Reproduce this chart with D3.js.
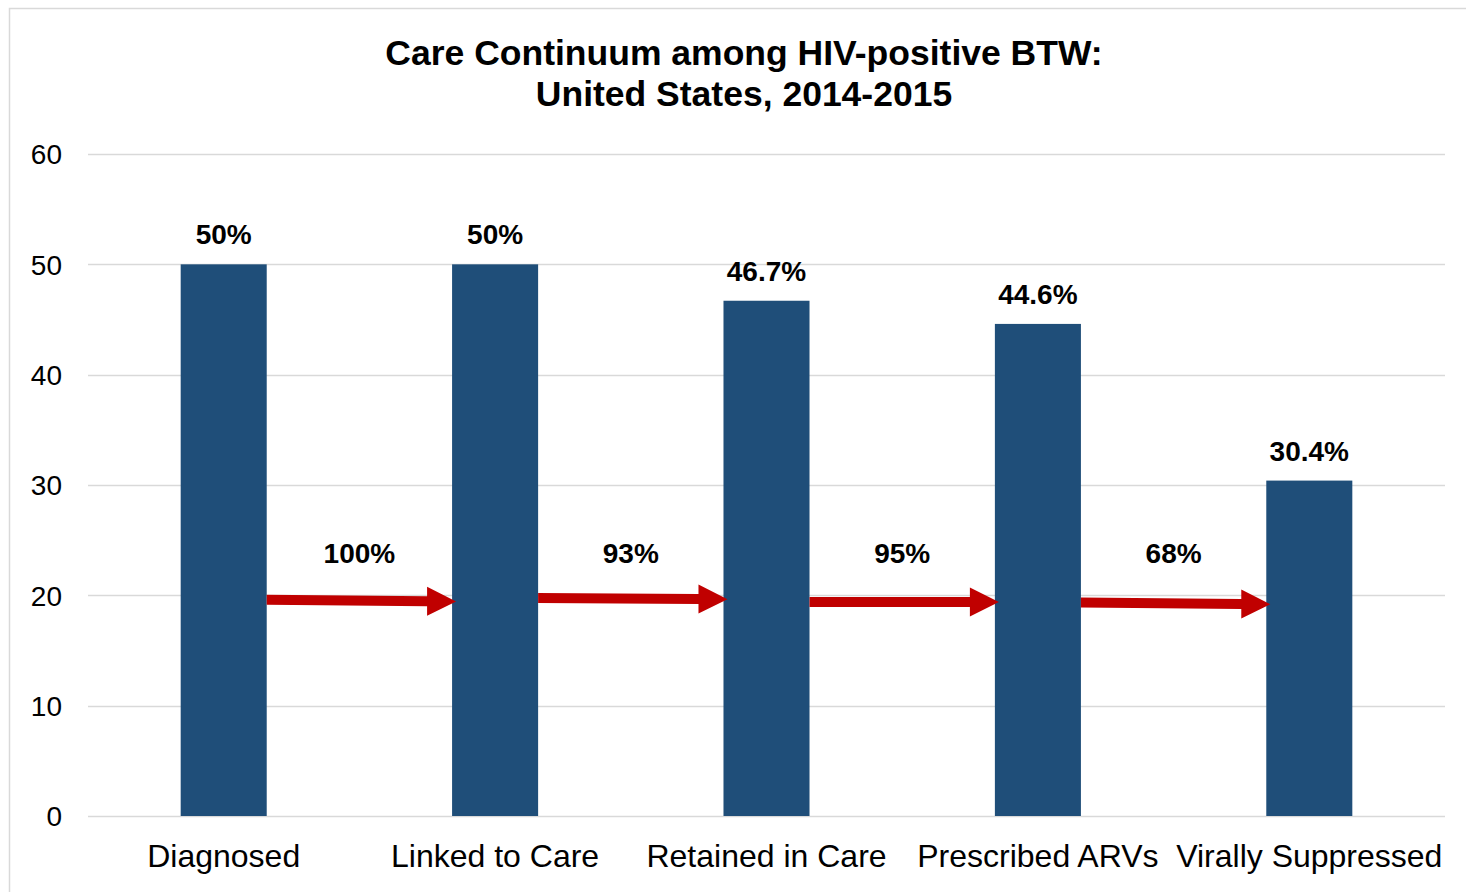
<!DOCTYPE html>
<html>
<head>
<meta charset="utf-8">
<script src="https://cdn.jsdelivr.net/npm/d3@7"></script>
<style>
  html, body { margin: 0; padding: 0; background: #fff; }
  svg { display: block; }
</style>
</head>
<body>
<script>
// DATA
let categories = ['Diagnosed', 'Linked to Care', 'Retained in Care', 'Prescribed ARVs', 'Virally Suppressed'];
let values = [50, 50, 46.7, 44.6, 30.4];
let valueLabels = ['50%', '50%', '46.7%', '44.6%', '30.4%'];
let stepLabels = ['100%', '93%', '95%', '68%'];
// arrow heights (axis units) at start and at tip
let arrowFrom = [19.6, 19.75, 19.4, 19.35];
let arrowTo = [19.45, 19.65, 19.4, 19.2];
let yTicks = [0, 10, 20, 30, 40, 50, 60];
let titleLines = ['Care Continuum among HIV-positive BTW:', 'United States, 2014-2015'];

let W = 1466, H = 892;
let font = "'Liberation Sans', Arial, sans-serif";

let svg = d3.select('body').append('svg')
  .attr('width', W)
  .attr('height', H);

// frame
svg.append('rect')
  .attr('x', 9.5)
  .attr('y', 8.5)
  .attr('width', W + 20)
  .attr('height', H + 20)
  .attr('fill', '#fff')
  .attr('stroke', '#d9d9d9')
  .attr('stroke-width', 1.5);

// title
svg.append('text')
  .attr('text-anchor', 'middle')
  .attr('font-family', font)
  .attr('font-weight', 'bold')
  .attr('font-size', 35.5)
  .attr('fill', '#000')
  .selectAll('tspan')
  .data(titleLines)
  .enter().append('tspan')
  .attr('x', 744)
  .attr('y', (d, i) => 65 + i * 41)
  .text(d => d);

// scales
let x = d3.scaleBand()
  .domain(categories)
  .range([88, 1445])
  .padding(0);
let barW = x.bandwidth() * 0.317;
let cx = c => x(c) + x.bandwidth() / 2;

let y = d3.scaleLinear()
  .domain([0, 60])
  .range([816, 154]);

// gridlines
svg.append('g')
  .attr('class', 'grid')
  .selectAll('line')
  .data(yTicks)
  .enter().append('line')
  .attr('x1', 88)
  .attr('x2', 1445)
  .attr('y1', d => Math.round(y(d)) + 0.5)
  .attr('y2', d => Math.round(y(d)) + 0.5)
  .attr('stroke', '#d9d9d9')
  .attr('stroke-width', 1.5);

// y axis labels
svg.append('g')
  .attr('class', 'y-axis')
  .attr('transform', 'translate(62,0)')
  .call(d3.axisLeft(y).tickValues(yTicks).tickSize(0).tickPadding(0))
  .call(g => g.select('.domain').remove())
  .call(g => g.selectAll('.tick text')
    .attr('font-family', font)
    .attr('font-size', 28)
    .attr('fill', '#000')
    .attr('dy', '0.35em'));

// x axis labels
svg.append('g')
  .attr('class', 'x-axis')
  .attr('transform', 'translate(0,867)')
  .call(d3.axisBottom(x).tickSize(0).tickPadding(0))
  .call(g => g.select('.domain').remove())
  .call(g => g.selectAll('.tick text')
    .attr('font-family', font)
    .attr('font-size', 32)
    .attr('fill', '#000')
    .attr('dy', 0));

// bars
svg.append('g')
  .attr('class', 'bars')
  .selectAll('rect')
  .data(values)
  .enter().append('rect')
  .attr('x', (d, i) => cx(categories[i]) - barW / 2)
  .attr('width', barW)
  .attr('y', d => y(d))
  .attr('height', d => y(0) - y(d))
  .attr('fill', '#1f4e79');

// bar value labels
svg.append('g')
  .attr('class', 'bar-labels')
  .selectAll('text')
  .data(values)
  .enter().append('text')
  .attr('x', (d, i) => cx(categories[i]))
  .attr('y', d => y(d) - 20)
  .attr('text-anchor', 'middle')
  .attr('font-family', font)
  .attr('font-weight', 'bold')
  .attr('font-size', 28)
  .attr('fill', '#000')
  .text((d, i) => valueLabels[i]);

// arrows between bars
let shaft = 5, headH = 14.5, headL = 29;
let arrows = stepLabels.map((lab, i) => ({
  x0: cx(categories[i]) + barW / 2,
  x1: cx(categories[i + 1]) - barW / 2 + 4,
  y0: y(arrowFrom[i]),
  y1: y(arrowTo[i]),
  label: lab
}));

let ag = svg.append('g').attr('class', 'arrows');
ag.selectAll('path')
  .data(arrows)
  .enter().append('path')
  .attr('fill', '#c00000')
  .attr('d', d => {
    let xb = d.x1 - headL;
    let yb = d.y0 + (d.y1 - d.y0) * (xb - d.x0) / (d.x1 - d.x0);
    return `M${d.x0},${d.y0 - shaft} L${xb},${yb - shaft} L${xb},${yb - headH} ` +
      `L${d.x1},${d.y1} L${xb},${yb + headH} L${xb},${yb + shaft} L${d.x0},${d.y0 + shaft} Z`;
  });

ag.selectAll('text')
  .data(arrows)
  .enter().append('text')
  .attr('x', d => (d.x0 + d.x1 - 4) / 2)
  .attr('y', 563)
  .attr('text-anchor', 'middle')
  .attr('font-family', font)
  .attr('font-weight', 'bold')
  .attr('font-size', 28)
  .attr('fill', '#000')
  .text(d => d.label);
</script>
</body>
</html>
